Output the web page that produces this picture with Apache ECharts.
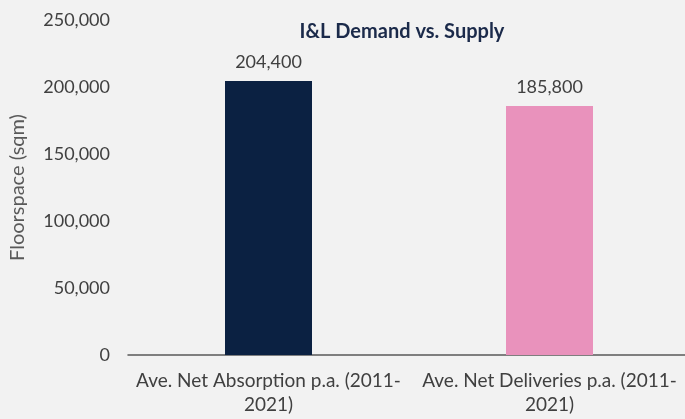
<!DOCTYPE html>
<html>
<head>
<meta charset="utf-8">
<script src="https://cdn.jsdelivr.net/npm/echarts@6/dist/echarts.min.js"></script>
<style>
html, body { margin: 0; padding: 0; background: #f2f2f2; }
#main { width: 685px; height: 419px; }
</style>
</head>
<body>
<div id="main"></div>
<script>
// data
var categories = ['Ave. Net Absorption p.a. (2011-\n2021)', 'Ave. Net Deliveries p.a. (2011-\n2021)'];
var floorspace = [204400, 185800];
var barColors = ['#0b2142', '#e992bc'];

var chart = echarts.init(document.getElementById('main'));
var font = 'Lato, "Open Sans", sans-serif';

var option = {
	backgroundColor: '#f2f2f2',
	animation: false,
	title: {
		text: 'I&L Demand vs. Supply',
		left: 397,
		top: 17,
		textAlign: 'center',
		textStyle: {
			fontFamily: font,
			fontWeight: 'bold',
			fontSize: 20,
			color: '#1b2a4a'
		}
	},
	grid: {
		left: 128,
		right: -5,
		top: 20,
		bottom: 64,
		outerBoundsMode: 'none'
	},
	xAxis: {
		type: 'category',
		data: categories,
		axisTick: { show: false },
		axisLine: {
			lineStyle: { color: '#595959', width: 1.5 }
		},
		axisLabel: {
			color: '#404040',
			fontFamily: font,
			fontSize: 19,
			lineHeight: 24,
			margin: 14,
			interval: 0
		}
	},
	yAxis: {
		type: 'value',
		min: 0,
		max: 250000,
		interval: 50000,
		name: 'Floorspace (sqm)',
		nameLocation: 'middle',
		nameGap: 100,
		nameTextStyle: {
			color: '#595959',
			fontFamily: font,
			fontSize: 20
		},
		axisLine: { show: false },
		axisTick: { show: false },
		splitLine: { show: false },
		axisLabel: {
			color: '#404040',
			fontFamily: font,
			fontSize: 18,
			margin: 18,
			formatter: function (v) {
				return v.toLocaleString('en-US');
			}
		}
	},
	series: [{
		type: 'bar',
		barWidth: 87,
		data: floorspace.map(function (v, i) {
			return { value: v, itemStyle: { color: barColors[i] } };
		}),
		label: {
			show: true,
			position: 'top',
			distance: 10,
			color: '#404040',
			fontFamily: font,
			fontSize: 18,
			formatter: function (p) {
				return p.value.toLocaleString('en-US');
			}
		}
	}]
};

chart.setOption(option);
</script>
</body>
</html>
